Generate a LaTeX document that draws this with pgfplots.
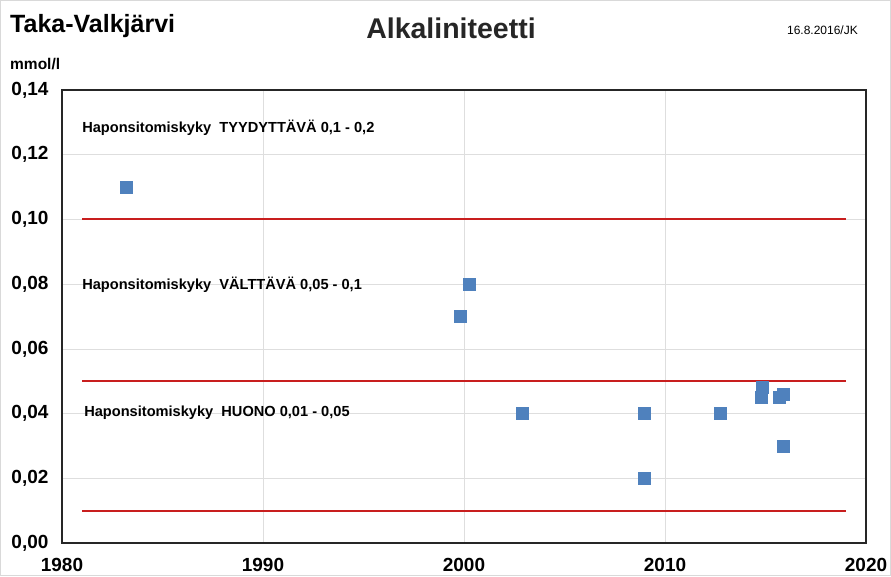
\documentclass[border=0pt]{standalone}
\usepackage{fontspec}
\setmainfont{Liberation Sans}
\usepackage{pgfplots}
\pgfplotsset{compat=1.18}
\definecolor{lineRed}{RGB}{200,30,30}
\definecolor{markBlue}{RGB}{79,129,189}
\definecolor{gridGray}{RGB}{222,222,222}
\begin{document}
\begin{tikzpicture}[x=1pt,y=1pt]
\useasboundingbox (0,0) rectangle (891,576);
\draw[gray!30, line width=1pt] (0.5,0.5) rectangle (890.5,575.5);
\node[inner sep=0pt, anchor=base west, font=\bfseries\fontsize{25}{25}\selectfont] at (10,543) {Taka-Valkjärvi};
\node[inner sep=0pt, anchor=base, font=\bfseries\fontsize{28.5}{28.5}\selectfont, text=black!85] at (451,537) {Alkaliniteetti};
\node[inner sep=0pt, anchor=base east, font=\fontsize{12}{12}\selectfont] at (858,541) {16.8.2016/JK};
\node[inner sep=0pt, anchor=base west, font=\bfseries\fontsize{15.5}{15.5}\selectfont] at (10,506) {mmol/l};
\begin{axis}[
  at={(62pt,33pt)}, anchor=south west,
  width=804pt, height=453pt, scale only axis,
  xmin=1980, xmax=2020, ymin=0, ymax=0.14,
  xtick={1980,1990,2000,2010,2020},
  ytick={0,0.02,0.04,0.06,0.08,0.1,0.12,0.14},
  grid=major, grid style={gridGray, line width=0.6pt},
  axis line style={black!85, line width=1.3pt},
  tick style={draw=none},
  /pgf/number format/assume math mode=true,
  ticklabel style={font=\bfseries\fontsize{19}{19}\selectfont},
  xticklabel style={yshift=-12pt, /pgf/number format/.cd, set thousands separator={}},
  yticklabel style={xshift=-10pt, /pgf/number format/.cd, fixed, fixed zerofill, precision=2, use comma},
  xtick pos=bottom, ytick pos=left,
  clip=false,
]
\addplot[color=lineRed, line width=1.8pt, mark=none] coordinates {(1981,0.01) (2019,0.01)};
\addplot[color=lineRed, line width=1.8pt, mark=none] coordinates {(1981,0.05) (2019,0.05)};
\addplot[color=lineRed, line width=1.8pt, mark=none] coordinates {(1981,0.1001) (2019,0.1001)};
\addplot[only marks, mark=square*, mark size=6pt, mark options={fill=markBlue, draw=markBlue}] coordinates {
(1983.2,0.110)
(1999.8,0.070)
(2000.25,0.080)
(2002.9,0.040)
(2008.95,0.040)
(2008.95,0.020)
(2012.75,0.040)
(2014.85,0.048)
(2014.8,0.045)
(2015.7,0.045)
(2015.9,0.046)
(2015.9,0.030)
};
\node[inner sep=0pt, anchor=west, font=\bfseries\fontsize{14.6}{14.6}\selectfont] at (axis cs:1981,0.1282) {Haponsitomiskyky\ \ TYYDYTTÄVÄ 0,1 - 0,2};
\node[inner sep=0pt, anchor=west, font=\bfseries\fontsize{14.6}{14.6}\selectfont] at (axis cs:1981,0.0797) {Haponsitomiskyky\ \ VÄLTTÄVÄ 0,05 - 0,1};
\node[inner sep=0pt, anchor=west, font=\bfseries\fontsize{14.6}{14.6}\selectfont] at (axis cs:1981.1,0.0402) {Haponsitomiskyky\ \ HUONO 0,01 - 0,05};
\end{axis}
\end{tikzpicture}
\end{document}
